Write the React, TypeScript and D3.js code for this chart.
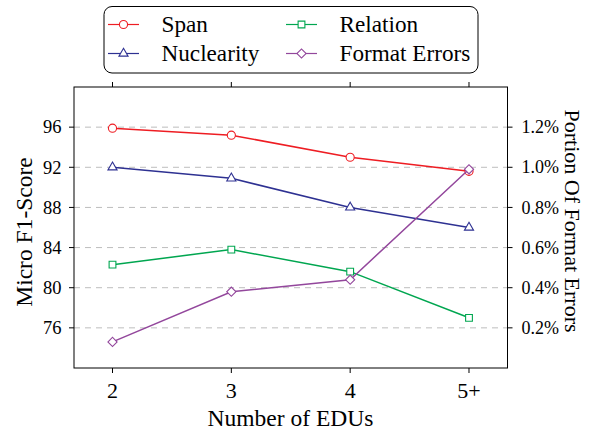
import React from "react";
import * as d3 from "d3";

// values
const edus = ["2", "3", "4", "5+"];
const span = [95.9, 95.2, 93.0, 91.6];
const nuclearity = [92.0, 90.9, 88.0, 86.0];
const relation = [82.3, 83.8, 81.6, 77.0];
const formatErrors = [0.13, 0.38, 0.44, 0.99]; // percent
const leftTicks = [76, 80, 84, 88, 92, 96];
const rightTicks = [0.2, 0.4, 0.6, 0.8, 1.0, 1.2];

const W = 597;
const H = 430;
const box = { left: 74, right: 507.5, top: 87, bottom: 368 };
const FONT = "'Liberation Serif'";

const series = [
  { name: "Span", values: span, color: "#ee1d23", shape: "circle", axis: "left" },
  { name: "Nuclearity", values: nuclearity, color: "#2e3192", shape: "triangle", axis: "left" },
  { name: "Relation", values: relation, color: "#00a650", shape: "square", axis: "left" },
  { name: "Format Errors", values: formatErrors, color: "#93479c", shape: "diamond", axis: "right" },
];

const symbolFor = (shape: string) => {
  if (shape === "circle") return d3.symbol(d3.symbolCircle, 52)();
  if (shape === "triangle") return d3.symbol(d3.symbolTriangle, 36)();
  return d3.symbol(d3.symbolSquare, shape === "square" ? 46 : 42)();
};

const Marker = ({ shape, color, x, y }: any) => (
  <path
    d={symbolFor(shape) || ""}
    transform={`translate(${x},${y})${shape === "diamond" ? " rotate(45)" : ""}`}
    fill="white"
    stroke={color}
    strokeWidth={1.1}
  />
);

const T = (props: any) => <text fontFamily={FONT} style={{ fontFamily: FONT }} {...props} />;

export default function App() {
  const x = d3.scalePoint<string>().domain(edus).range([box.left, box.right]).padding(0.324);
  const yL = d3.scaleLinear().domain([72, 100]).range([box.bottom, box.top]);
  const yR = d3.scaleLinear().domain([0, 1.4]).range([box.bottom, box.top]);

  const legendX = [108, 286];
  const legendY = [24.5, 53.5];

  return (
    <svg width={W} height={H} style={{ position: "absolute", left: 0, top: 0, background: "white" }}>
      {/* grid */}
      {leftTicks.map((t) => (
        <line
          key={"g" + t}
          x1={box.left}
          x2={box.right}
          y1={yL(t)}
          y2={yL(t)}
          stroke="#bdbdbd"
          strokeWidth={1}
          strokeDasharray="6,5"
        />
      ))}

      {/* lines */}
      {series.map((s) => {
        const y = s.axis === "left" ? yL : yR;
        const line = d3
          .line<number>()
          .x((_, i) => x(edus[i]) as number)
          .y((d) => y(d));
        return (
          <g key={s.name}>
            <path d={line(s.values) || ""} fill="none" stroke={s.color} strokeWidth={1.5} />
            {s.values.map((v, i) => (
              <Marker key={i} shape={s.shape} color={s.color} x={x(edus[i])} y={y(v)} />
            ))}
          </g>
        );
      })}

      {/* frame */}
      <rect
        x={box.left}
        y={box.top}
        width={box.right - box.left}
        height={box.bottom - box.top}
        fill="none"
        stroke="black"
        strokeWidth={1}
      />

      {/* x ticks */}
      {edus.map((e) => (
        <g key={"x" + e}>
          <line x1={x(e)} x2={x(e)} y1={box.bottom} y2={box.bottom + 5} stroke="black" />
          <line x1={x(e)} x2={x(e)} y1={box.top} y2={box.top - 5} stroke="black" />
          <T x={x(e)} y={398} textAnchor="middle" fontSize={22}>
            {e}
          </T>
        </g>
      ))}

      {/* left ticks */}
      {leftTicks.map((t) => (
        <g key={"l" + t}>
          <line x1={box.left - 5} x2={box.left} y1={yL(t)} y2={yL(t)} stroke="black" />
          <T x={61.5} y={yL(t)} dy="0.34em" textAnchor="end" fontSize={18.5}>
            {t}
          </T>
        </g>
      ))}

      {/* right ticks */}
      {rightTicks.map((t) => (
        <g key={"r" + t}>
          <line x1={box.right} x2={box.right + 5} y1={yR(t)} y2={yR(t)} stroke="black" />
          <T x={521.5} y={yR(t)} dy="0.34em" textAnchor="start" fontSize={18}>
            {d3.format(".1f")(t)}%
          </T>
        </g>
      ))}

      {/* axis titles */}
      <T x={290.5} y={426} textAnchor="middle" fontSize={23.5}>
        Number of EDUs
      </T>
      <T transform="translate(32,232) rotate(-90)" textAnchor="middle" fontSize={23.5}>
        Micro F1-Score
      </T>
      <T transform="translate(565,221) rotate(90)" textAnchor="middle" fontSize={22}>
        Portion Of Format Errors
      </T>

      {/* legend */}
      <rect x={104} y={6.5} width={374} height={66.5} rx={8} fill="white" stroke="black" strokeWidth={1} />
      {series.map((s, i) => {
        const lx = legendX[Math.floor(i / 2)];
        const ly = legendY[i % 2];
        return (
          <g key={"lg" + s.name}>
            <line x1={lx} x2={lx + 31} y1={ly} y2={ly} stroke={s.color} strokeWidth={1.2} />
            <Marker shape={s.shape} color={s.color} x={lx + 15.5} y={ly} />
            <T x={lx + 53.5} y={ly + 7.5} fontSize={23.2}>
              {s.name}
            </T>
          </g>
        );
      })}
    </svg>
  );
}
